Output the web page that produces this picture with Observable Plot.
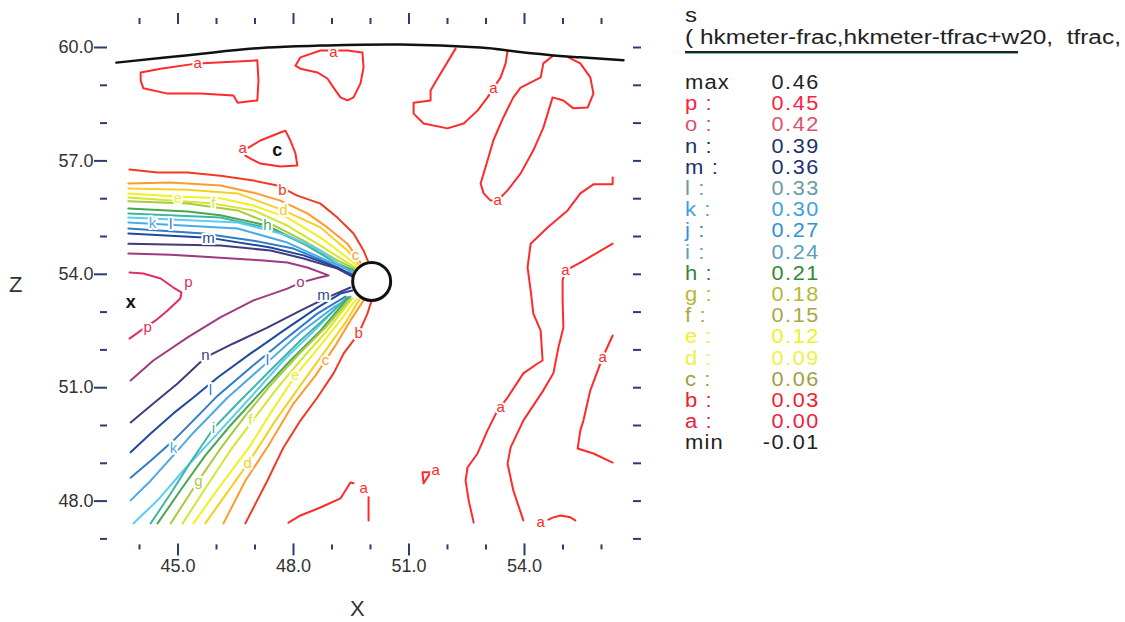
<!DOCTYPE html>
<html><head><meta charset="utf-8">
<script src="https://cdn.jsdelivr.net/npm/d3@7"></script>
<script src="https://cdn.jsdelivr.net/npm/@observablehq/plot@0.6"></script>
<style>
body{margin:0;background:#fff;}
#wrap{position:relative;width:1125px;height:622px;font-family:"Liberation Sans",Arial,sans-serif;overflow:hidden;background:#fff}
#chart{position:absolute;left:0;top:0}
.t{position:absolute;white-space:pre;color:#222}
</style></head>
<body>
<div id="wrap"><div id="chart"></div></div>
<script>
// ---------- data ----------
const levels = ["a","b","c","d","e","f","g","h","i","j","k","l","m","n","o","p"];
const legendNames = ["max","p :","o :","n :","m :","l :","k :","j :","i :","h :","g :","f :","e :","d :","c :","b :","a :","min"];
const legendValues = ["0.46","0.45","0.42","0.39","0.36","0.33","0.30","0.27","0.24","0.21","0.18","0.15","0.12","0.09","0.06","0.03","0.00","-0.01"];
const xMajorTicks = [45, 48, 51, 54];
const xMinorTicks = [44, 46, 47, 49, 50, 52, 53, 55, 56];
const zMajorTicks = [48, 51, 54, 57, 60];
const zMinorTicks = [47, 49, 50, 52, 53, 55, 56, 58, 59];

const boundary = [[43.40,59.60],[44.73,59.74],[45.92,59.87],[47.32,60.00],[48.70,60.05],[50.78,60.08],[52.86,60.00],[53.56,59.92],[54.75,59.79],[55.45,59.74],[56.57,59.66]];

const a1 = [[44.03,59.34],[44.55,59.44],[45.51,59.58],[46.03,59.60],[47.06,59.66],[47.09,59.13],[47.06,58.60],[46.55,58.54],[46.44,58.73],[45.58,58.78],[44.73,58.78],[44.10,58.92],[44.03,59.13],[44.03,59.34]];
const a2 = [[48.05,59.52],[48.18,59.74],[48.70,59.92],[49.40,59.92],[49.79,59.87],[49.82,59.47],[49.74,59.05],[49.56,58.68],[49.40,58.60],[49.22,58.68],[49.04,58.94],[48.88,59.18],[48.62,59.34],[48.18,59.44],[48.05,59.52]];
const a3 = [[46.83,57.35],[47.14,57.54],[47.66,57.75],[47.79,57.80],[47.92,57.54],[48.05,57.20],[48.10,56.88],[47.66,56.85],[47.14,56.93],[46.88,57.06],[46.75,57.14]];
const a4 = [[52.21,59.97],[51.82,59.31],[51.56,58.86],[51.56,58.60],[51.12,58.54],[51.12,58.25],[51.38,57.99],[52.00,57.86],[52.42,57.99],[52.78,58.33],[53.04,58.68],[53.19,58.92],[53.38,59.21],[53.51,59.58],[53.56,59.92]];
const a5 = [[54.75,59.79],[54.49,59.58],[54.42,59.21],[53.90,58.94],[53.71,58.68],[53.45,58.15],[53.19,57.54],[53.04,57.01],[52.86,56.40],[52.94,56.14],[53.12,55.95],[53.30,55.95],[53.56,56.22],[53.90,56.67],[54.23,57.28],[54.49,57.88],[54.73,58.68],[55.01,58.60],[55.27,58.39],[55.64,58.41],[55.79,58.78],[55.71,59.21],[55.45,59.58],[55.14,59.74]];
const a6 = [[56.29,56.56],[56.29,56.38],[55.79,56.38],[55.45,56.14],[55.12,55.69],[54.60,55.24],[54.16,54.81],[54.08,54.18],[54.16,53.57],[54.23,52.96],[54.42,52.51],[54.47,51.72],[54.34,51.64],[53.97,51.38],[53.56,50.74],[53.30,50.40],[53.04,49.87],[52.78,49.26],[52.52,48.89],[52.47,48.54],[52.55,48.02],[52.68,47.43]];
const a7 = [[56.29,54.81],[55.45,54.31],[55.06,54.10],[54.99,53.84],[54.99,53.31],[55.01,52.59],[54.88,52.06],[54.75,51.38],[54.49,50.93],[53.97,50.13],[53.64,49.42],[53.56,48.99],[53.71,48.28],[53.97,47.49]];
const a8 = [[56.29,52.38],[56.03,51.80],[55.71,50.93],[55.53,50.13],[55.45,49.87],[55.38,49.39],[55.79,49.26],[56.29,49.02]];
const a9 = [[54.62,47.51],[54.75,47.57],[54.94,47.62],[55.19,47.57],[55.32,47.49]];
const a10 = [[51.35,48.76],[51.56,48.76],[51.38,48.47],[51.35,48.76]];
const a11a = [[47.87,47.43],[48.18,47.62],[48.70,47.83],[49.22,48.07],[49.48,48.49],[49.56,48.47]];
const a11b = [[49.95,48.10],[49.95,47.49]];

const bUp = [[43.74,56.77],[44.47,56.69],[45.25,56.69],[46.10,56.61],[46.96,56.48],[47.58,56.35],[48.10,56.08],[48.70,55.87],[49.14,55.50],[49.56,55.08],[49.82,54.63],[49.95,54.31]];
const cUp = [[43.71,56.40],[44.81,56.43],[46.10,56.35],[46.96,56.16],[47.66,55.95],[48.36,55.61],[48.88,55.24],[49.40,54.81],[49.74,54.31]];
const dUp = [[43.71,56.27],[45.25,56.24],[46.55,56.14],[47.74,55.69],[48.70,55.24],[49.40,54.63],[49.69,54.26]];
const eUp = [[43.71,56.14],[44.99,56.06],[46.10,56.01],[46.96,55.82],[47.84,55.50],[48.70,54.97],[49.40,54.44],[49.64,54.23]];
const fUp = [[43.71,56.03],[45.92,55.87],[46.96,55.69],[47.84,55.29],[48.70,54.76],[49.30,54.37],[49.61,54.18]];
const gUp = [[43.71,55.93],[45.25,55.87],[46.55,55.69],[47.40,55.34],[48.26,54.89],[49.14,54.37],[49.58,54.15]];
const hUp = [[43.71,55.74],[45.25,55.66],[46.10,55.56],[47.32,55.29],[48.26,54.81],[49.14,54.29],[49.56,54.10]];
const iUp = [[43.71,55.61],[46.10,55.50],[47.40,55.21],[48.36,54.76],[49.22,54.23],[49.56,54.07]];
const jUp = [[43.71,55.50],[46.55,55.37],[47.84,55.03],[48.70,54.63],[49.30,54.18],[49.53,54.05]];
const kUp = [[43.71,55.37],[46.55,55.21],[47.84,54.84],[48.70,54.44],[49.40,54.13],[49.53,54.02]];
const lUp = [[43.71,55.21],[45.66,55.08],[46.96,54.89],[48.00,54.68],[48.88,54.31],[49.51,54.00]];
const mUp = [[43.71,55.08],[45.79,54.97],[47.40,54.71],[48.26,54.50],[49.14,54.18],[49.53,53.97]];
const nUp = [[43.71,54.81],[46.10,54.76],[47.40,54.63],[48.26,54.42],[49.14,54.15],[49.53,53.94]];
const oLoop = [[43.71,54.55],[44.81,54.52],[46.10,54.44],[47.14,54.37],[47.84,54.31],[48.36,54.18],[48.91,53.97],[48.70,53.92],[48.18,53.78],[47.84,53.62],[46.96,53.31],[46.10,52.86],[45.25,52.33],[44.36,51.72],[43.77,51.19]];
const pLine = [[43.74,54.05],[44.10,54.02],[44.55,53.89],[44.88,53.65],[45.09,53.52],[45.06,53.36],[44.73,53.04],[44.42,52.78],[44.03,52.51],[43.74,52.30]];

const nLo = [[43.77,50.08],[44.36,50.58],[44.99,51.11],[45.71,51.80],[46.44,52.17],[47.32,52.59],[48.18,53.04],[48.88,53.39],[49.48,53.65]];
const mLo = [[43.77,49.29],[44.29,49.79],[44.88,50.32],[45.40,50.74],[46.03,51.27],[46.88,51.90],[47.74,52.51],[48.62,53.12],[49.22,53.49],[49.53,53.57]];
const lLo = [[43.77,48.62],[44.29,49.07],[44.88,49.60],[45.58,50.32],[46.03,50.79],[46.88,51.53],[47.74,52.25],[48.62,52.96],[49.35,53.41]];
const kLo = [[43.77,48.02],[44.29,48.54],[44.88,49.21],[45.40,49.81],[46.29,50.74],[47.32,51.67],[48.18,52.46],[49.04,53.12],[49.48,53.41]];
const jLo = [[43.84,47.41],[44.47,48.02],[45.14,48.81],[46.03,49.79],[46.88,50.74],[47.74,51.72],[48.62,52.59],[49.35,53.36]];
const iLo = [[44.29,47.41],[44.81,48.20],[45.32,49.02],[45.92,49.92],[46.62,50.66],[47.40,51.46],[48.18,52.25],[48.96,52.96],[49.40,53.39]];
const hLo = [[44.47,47.41],[45.06,48.28],[45.71,49.21],[46.36,50.00],[47.14,50.87],[47.92,51.72],[48.70,52.51],[49.43,53.39]];
const gLo = [[44.81,47.41],[45.53,48.54],[46.16,49.47],[46.75,50.26],[47.40,51.06],[48.18,51.93],[48.83,52.59],[49.48,53.36]];
const fLo = [[45.12,47.41],[45.84,48.54],[46.36,49.34],[46.94,50.13],[47.53,50.93],[48.18,51.72],[48.83,52.46],[49.53,53.36]];
const eLo = [[45.40,47.41],[46.10,48.41],[46.88,49.47],[47.45,50.40],[48.05,51.32],[48.70,52.12],[49.22,52.78],[49.64,53.36]];
const dLo = [[45.71,47.41],[46.81,48.99],[47.53,50.13],[48.18,51.06],[48.83,51.98],[49.35,52.72],[49.71,53.33]];
const cLo = [[46.18,47.41],[46.75,48.54],[47.35,49.47],[48.00,50.58],[48.57,51.32],[49.09,52.12],[49.48,52.78],[49.82,53.31]];
const bLo = [[46.75,47.41],[47.32,48.54],[47.74,49.42],[48.18,50.13],[48.62,50.74],[49.04,51.38],[49.30,51.90],[49.69,52.43],[49.92,52.96],[50.03,53.31]];

const labelText = ["a","a","a","a","a","a","a","a","a","a","a","b","c","d","e","f","h","k","l","m","o","p","p","m","n","l","l","k","i","g","f","e","d","c","b"];
const labelX = [45.51,49.04,46.68,53.19,53.30,55.06,56.03,53.38,51.69,54.42,49.82,47.71,49.61,47.74,44.99,45.92,47.32,44.34,44.81,45.79,48.18,45.27,44.21,48.78,45.71,45.84,47.32,44.88,45.92,45.53,46.88,48.05,46.81,48.83,49.69];
const labelZ = [59.58,59.87,57.33,58.92,55.95,54.10,51.80,50.48,48.81,47.43,48.33,56.22,54.50,55.69,56.01,55.87,55.29,55.34,55.32,54.95,53.78,53.78,52.59,53.44,51.85,50.93,51.72,49.39,49.92,48.54,50.13,51.32,48.99,51.72,52.43];

const markerText = ["c","x"];
const markerX = [47.58, 43.77];
const markerZ = [57.28, 53.25];
const obstacle = [{x: 50.03, z: 53.81}];

// ---------- styles ----------
const lineColors = ["#ff2a2a","#f23a22","#ff9a2e","#f5d020","#f2f020","#d4e630","#a6cc3c","#4aa84c","#3fb5a8","#5ccdf0","#4aaae6","#2f7ccc","#1f4a9c","#46387c","#a03a80","#e03060"];
const legendColors = ["#222","#ff2040","#e05070","#20306a","#203070","#6a9aa8","#40a0e0","#3090d8","#5aa0b8","#308838","#b8b830","#a8a840","#f0f020","#f0f040","#a0a040","#f02030","#f02040","#222"];
const tickColor = "#2b3d6e";
const textColor = "#333";

const segments = [
  ["a",a1],["a",a2],["a",a3],["a",a4],["a",a5],["a",a6],["a",a7],["a",a8],["a",a9],["a",a10],["a",a11a],["a",a11b],
  ["b",bUp],["c",cUp],["d",dUp],["e",eUp],["f",fUp],["g",gUp],["h",hUp],["i",iUp],["j",jUp],["k",kUp],["l",lUp],["m",mUp],["n",nUp],
  ["o",oLoop],["p",pLine],
  ["n",nLo],["m",mLo],["l",lLo],["k",kLo],["j",jLo],["i",iLo],["h",hLo],["g",gLo],["f",fLo],["e",eLo],["d",dLo],["c",cLo],["b",bLo]
];
const rows = segments.flatMap(([lev, pts], id) => pts.map(([x, z]) => ({id, lev, x, z})));
const boundaryRows = boundary.map(([x, z]) => ({x, z}));
const labels = labelText.map((t, i) => ({t, x: labelX[i], z: labelZ[i]}));
const markers = markerText.map((t, i) => ({t, x: markerX[i], z: markerZ[i]}));

const fmt = d => d.toFixed(1);
const none = () => "";

const chart = Plot.plot({
  width: 660, height: 622,
  marginLeft: 139, marginRight: 59, marginTop: 47, marginBottom: 83.6,
  x: {domain: [44, 56]},
  y: {domain: [47, 60]},
  color: {type: "ordinal", domain: levels, range: lineColors},
  style: {fontFamily: "'Liberation Sans', Arial, sans-serif", background: "white", overflow: "visible"},
  marks: [
    Plot.axisY({anchor: "left", ticks: zMajorTicks, tickSize: 13, tickPadding: 1, dx: -32, tickFormat: fmt, fontSize: 18, stroke: tickColor, strokeWidth: 2, fill: textColor, label: null}),
    Plot.axisY({anchor: "left", ticks: zMinorTicks, tickSize: 7, dx: -32, tickFormat: none, stroke: tickColor, strokeWidth: 2, label: null}),
    Plot.axisY({anchor: "right", ticks: zMajorTicks.concat(zMinorTicks), tickSize: 8, dx: 31, tickFormat: none, stroke: tickColor, strokeWidth: 2, label: null}),
    Plot.axisX({anchor: "top", ticks: xMajorTicks, tickSize: 11, dy: -24, tickFormat: none, stroke: tickColor, strokeWidth: 2, label: null}),
    Plot.axisX({anchor: "top", ticks: xMinorTicks, tickSize: 6, dy: -24, tickFormat: none, stroke: tickColor, strokeWidth: 2, label: null}),
    Plot.axisX({anchor: "bottom", ticks: xMajorTicks, tickSize: 12, tickPadding: 3, dy: 5, tickFormat: fmt, fontSize: 18, stroke: tickColor, strokeWidth: 2, fill: textColor, label: null}),
    Plot.axisX({anchor: "bottom", ticks: xMinorTicks, tickSize: 5, dy: 6, tickFormat: none, stroke: tickColor, strokeWidth: 2, label: null}),
    Plot.line(rows, {x: "x", y: "z", z: "id", stroke: "lev", strokeWidth: 2, strokeLinejoin: "round"}),
    Plot.line(boundaryRows, {x: "x", y: "z", stroke: "#111", strokeWidth: 2.5, curve: "natural"}),
    Plot.text(labels, {x: "x", y: "z", text: "t", fill: "t", fontSize: 15, stroke: "white", strokeWidth: 4}),
    Plot.text(markers, {x: "x", y: "z", text: "t", fill: "#111", fontSize: 18, fontWeight: "bold"}),
    Plot.dot(obstacle, {x: "x", y: "z", r: 19, fill: "white", stroke: "#111", strokeWidth: 3})
  ]
});
document.getElementById("chart").appendChild(chart);

// ---------- titles and legend ----------
const wrap = document.getElementById("wrap");
function addText(txt, css) {
  const d = document.createElement("div");
  d.className = "t";
  d.textContent = txt;
  Object.assign(d.style, css);
  wrap.appendChild(d);
  return d;
}
addText("X", {left: "350px", top: "596px", fontSize: "22px", color: textColor});
addText("Z", {left: "9px", top: "272px", fontSize: "22px", color: textColor});
addText("s", {left: "685px", top: "4px", fontSize: "20px", transform: "scaleX(1.2)", transformOrigin: "left"});
addText("( hkmeter-frac,hkmeter-tfrac+w20,  tfrac,", {left: "685px", top: "26px", fontSize: "20px", transform: "scaleX(1.22)", transformOrigin: "left"});
const ul = document.createElement("div");
Object.assign(ul.style, {position: "absolute", left: "685px", top: "51px", width: "333px", height: "2px", background: "#2a1a40", boxShadow: "0 1px 0 #6c6"});
wrap.appendChild(ul);
legendNames.forEach((name, i) => {
  const top = 72 + i * 21.2;
  addText(name, {left: "685px", top: top + "px", fontSize: "20px", lineHeight: "21px", color: legendColors[i], letterSpacing: "1px", transform: "scaleX(1.1)", transformOrigin: "left"});
  addText(legendValues[i], {left: "720px", width: "100px", textAlign: "right", top: top + "px", fontSize: "20px", lineHeight: "21px", color: legendColors[i], letterSpacing: "1.5px", transform: "scaleX(1.08)", transformOrigin: "right"});
});
</script>
</body></html>
